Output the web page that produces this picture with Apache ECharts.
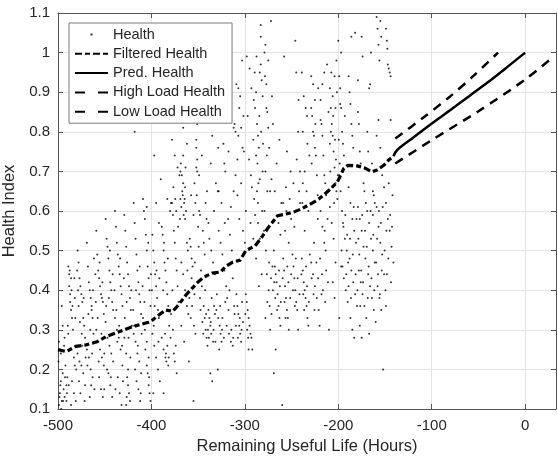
<!DOCTYPE html>
<html>
<head>
<meta charset="utf-8">
<script src="https://cdn.jsdelivr.net/npm/echarts@6/dist/echarts.min.js"></script>
<style>
  html, body { margin: 0; padding: 0; background: #fff; }
  #chart { width: 558px; height: 459px; }
</style>
</head>
<body>
<div id="chart"></div>
<script>
/* raw health samples, [hours, index] */
const healthA = [
  [-499,0.11],[-498,0.14],[-497,0.17],[-496,0.12],[-495,0.19],[-494,0.15],[-493,0.13],[-492,0.21],[-491,0.16],[-499,0.27],[-497,0.24],[-495,0.31],[-493,0.28],[-491,0.12],[-496,0.36],[-490,0.18],
  [-489,0.46],[-488,0.44],[-488,0.41],[-487,0.39],[-487,0.37],[-486,0.43],[-486,0.35],[-485,0.33],[-489,0.29],[-484,0.30],[-483,0.23],[-482,0.21],[-485,0.17],[-483,0.14],[-481,0.12],[-481,0.26],[-486,0.11],[-482,0.38],
  [-479,0.50],[-478,0.47],[-477,0.43],[-476,0.41],[-475,0.39],[-474,0.37],[-473,0.33],[-472,0.31],[-471,0.28],[-479,0.24],[-477,0.22],[-475,0.21],[-473,0.19],[-471,0.16],[-476,0.14],[-474,0.26],[-478,0.36],
  [-469,0.52],[-468,0.46],[-467,0.42],[-466,0.40],[-465,0.38],[-464,0.36],[-463,0.33],[-462,0.29],[-461,0.27],[-469,0.25],[-467,0.23],[-465,0.20],[-463,0.18],[-461,0.15],[-466,0.13],[-464,0.35],[-460,0.44],
  [-459,0.55],[-458,0.49],[-457,0.45],[-456,0.43],[-455,0.41],[-454,0.39],[-453,0.38],[-452,0.37],[-451,0.34],[-459,0.30],[-457,0.27],[-455,0.25],[-453,0.23],[-451,0.21],[-456,0.18],[-454,0.15],[-452,0.13],
  [-449,0.58],[-448,0.53],[-447,0.51],[-446,0.48],[-445,0.45],[-444,0.42],[-443,0.40],[-442,0.37],[-441,0.35],[-449,0.32],[-447,0.28],[-445,0.26],[-443,0.24],[-441,0.22],[-446,0.19],[-444,0.16],[-442,0.13],
  [-439,0.60],[-438,0.56],[-437,0.52],[-436,0.49],[-435,0.46],[-434,0.44],[-433,0.41],[-432,0.39],[-431,0.36],[-439,0.33],[-437,0.30],[-435,0.28],[-433,0.25],[-431,0.21],[-436,0.18],[-434,0.14],[-432,0.11],
  [-429,0.59],[-428,0.55],[-427,0.51],[-426,0.47],[-425,0.44],[-424,0.41],[-423,0.38],[-422,0.35],[-421,0.31],[-429,0.28],[-427,0.24],[-425,0.20],[-426,0.18],[-425,0.16],[-424,0.14],[-423,0.12],[-427,0.11],
  [-419,0.62],[-418,0.57],[-417,0.53],[-416,0.49],[-415,0.45],[-414,0.42],[-413,0.39],[-412,0.37],[-411,0.34],[-419,0.29],[-417,0.27],[-415,0.24],[-413,0.22],[-411,0.19],[-416,0.17],[-414,0.15],[-412,0.12],[-418,0.80],
  [-409,0.63],[-408,0.60],[-407,0.58],[-406,0.54],[-405,0.50],[-404,0.46],[-403,0.43],[-402,0.40],[-401,0.36],[-409,0.33],[-407,0.30],[-405,0.27],[-403,0.23],[-405,0.21],[-404,0.19],[-403,0.16],[-402,0.14],[-401,0.12],[-405,0.61]
];
const healthB = [
  [-399,0.54],[-398,0.50],[-397,0.47],[-396,0.44],[-395,0.41],[-394,0.38],[-393,0.35],[-392,0.33],[-399,0.29],[-397,0.26],[-395,0.23],[-393,0.20],[-391,0.17],[-397,0.74],[-390,0.68],[-395,0.62],[-392,0.57],[-398,0.14],
  [-389,0.56],[-388,0.54],[-387,0.50],[-386,0.47],[-385,0.45],[-384,0.42],[-383,0.39],[-382,0.36],[-381,0.31],[-389,0.28],[-387,0.25],[-385,0.23],[-384,0.22],[-383,0.26],[-382,0.21],[-383,0.63],[-387,0.14],[-380,0.60],
  [-379,0.62],[-378,0.62],[-377,0.59],[-376,0.55],[-375,0.52],[-374,0.48],[-373,0.45],[-372,0.41],[-371,0.37],[-379,0.34],[-377,0.30],[-376,0.24],[-375,0.22],[-374,0.26],[-372,0.71],[-375,0.74],[-370,0.69],[-373,0.19],[-378,0.78],
  [-369,0.63],[-368,0.61],[-367,0.65],[-366,0.67],[-365,0.62],[-364,0.66],[-363,0.60],[-366,0.74],[-366,0.81],[-364,0.58],[-362,0.52],[-361,0.50],[-368,0.47],[-366,0.44],[-364,0.40],[-362,0.36],[-368,0.31],[-365,0.27],[-360,0.22],[-369,0.70],[-362,0.77],
  [-359,0.53],[-358,0.51],[-357,0.48],[-356,0.46],[-352,0.78],[-352,0.76],[-351,0.73],[-352,0.71],[-351,0.70],[-349,0.69],[-354,0.67],[-353,0.62],[-355,0.59],[-351,0.82],[-357,0.43],[-354,0.39],[-358,0.33],[-353,0.29],[-355,0.12],[-350,0.56],
  [-349,0.60],[-348,0.59],[-346,0.74],[-342,0.62],[-345,0.55],[-344,0.52],[-343,0.49],[-347,0.45],[-344,0.36],[-343,0.33],[-342,0.30],[-341,0.28],[-340,0.26],[-346,0.41],[-348,0.38],[-341,0.58],
  [-339,0.35],[-338,0.33],[-337,0.31],[-336,0.29],[-335,0.79],[-334,0.27],[-333,0.36],[-332,0.34],[-331,0.67],[-338,0.53],[-336,0.50],[-334,0.47],[-332,0.44],[-337,0.19],[-335,0.17],[-333,0.60],[-339,0.57],[-330,0.39],
  [-329,0.65],[-328,0.65],[-327,0.31],[-326,0.29],[-325,0.27],[-324,0.33],[-323,0.77],[-323,0.83],[-322,0.72],[-321,0.70],[-328,0.55],[-326,0.52],[-324,0.49],[-322,0.45],[-320,0.41],[-329,0.20],[-325,0.62],[-321,0.37],
  [-319,0.83],[-316,0.83],[-312,0.81],[-310,0.80],[-311,0.82],[-312,0.65],[-310,0.69],[-318,0.58],[-316,0.54],[-314,0.50],[-317,0.29],[-315,0.27],[-313,0.26],[-311,0.34],[-319,0.38],[-313,0.43],[-315,0.61],
  [-309,0.39],[-308,0.36],[-307,0.34],[-306,0.31],[-305,0.29],[-304,0.27],[-303,0.37],[-302,0.32],[-309,0.92],[-307,0.91],[-305,0.89],[-306,0.86],[-304,0.81],[-307,0.79],[-301,0.75],[-308,0.73],[-304,0.67],[-308,0.64],[-306,0.58],[-302,0.55],[-300,0.52],[-303,0.98]
];
const healthC = [
  [-299,0.39],[-298,0.37],[-297,0.35],[-296,0.33],[-295,0.31],[-294,0.29],[-293,0.28],[-296,0.25],[-292,0.25],[-298,0.99],[-295,0.96],[-293,0.91],[-297,0.84],[-291,0.78],[-299,0.60],[-294,0.57],[-291,0.53],[-290,0.63],
  [-289,0.86],[-288,0.90],[-287,0.82],[-286,0.79],[-285,0.76],[-288,0.74],[-284,0.68],[-287,0.65],[-286,0.62],[-283,0.97],[-284,0.95],[-282,0.93],[-283,1.04],[-283,1.07],[-281,0.89],[-286,0.57],[-284,0.53],[-288,0.48],[-282,0.44],[-285,0.41],[-281,0.70],[-289,0.59],
  [-279,1.00],[-278,1.02],[-277,0.86],[-276,0.85],[-275,0.81],[-274,0.76],[-278,0.70],[-276,0.65],[-272,1.08],[-271,0.89],[-270,0.82],[-273,0.65],[-275,0.98],[-277,0.92],[-279,0.60],[-274,0.47],[-272,0.43],[-270,0.40],[-276,0.37],[-278,0.33],[-273,0.30],
  [-269,0.50],[-268,0.46],[-267,0.44],[-266,0.42],[-265,0.39],[-264,0.36],[-263,0.33],[-262,0.31],[-267,0.25],[-261,0.62],[-264,0.57],[-262,0.54],[-268,0.65],[-266,0.72],[-263,0.78],[-269,0.19],
  [-259,0.48],[-258,0.45],[-257,0.41],[-256,0.38],[-255,0.35],[-254,0.33],[-253,0.30],[-259,0.62],[-256,0.66],[-252,0.63],[-257,0.55],[-253,0.52],[-255,0.75],[-258,0.99],[-260,0.11],[-251,0.70],
  [-249,0.49],[-248,0.46],[-247,0.43],[-246,0.40],[-245,0.37],[-244,0.35],[-243,0.30],[-246,1.03],[-245,0.95],[-243,0.80],[-241,0.70],[-248,0.67],[-242,0.65],[-244,0.60],[-247,0.56],[-241,0.62],
  [-239,0.48],[-238,0.45],[-237,0.42],[-236,0.40],[-235,0.38],[-234,0.36],[-233,0.33],[-232,0.31],[-239,0.95],[-237,0.89],[-235,0.86],[-233,0.77],[-231,0.74],[-238,0.67],[-236,0.70],[-234,0.65],[-238,0.80],[-232,0.60],[-236,0.55],
  [-229,0.86],[-228,0.84],[-227,0.80],[-226,0.79],[-225,0.76],[-224,0.74],[-223,0.69],[-222,0.64],[-229,0.94],[-227,0.92],[-225,0.88],[-229,0.47],[-227,0.44],[-225,0.41],[-223,0.38],[-221,0.35],[-226,0.52],[-222,0.58],[-220,0.31],
  [-219,0.83],[-218,0.82],[-217,0.79],[-216,0.74],[-215,0.69],[-214,0.67],[-213,0.64],[-219,0.88],[-217,0.92],[-215,0.95],[-212,0.97],[-219,0.60],[-217,0.56],[-215,0.52],[-213,0.45],[-211,0.42],[-218,0.39],[-214,0.37],[-210,0.30],
  [-209,0.91],[-208,0.86],[-207,0.82],[-206,0.79],[-205,0.75],[-204,0.71],[-203,0.67],[-202,0.65],[-201,0.63],[-208,0.80],[-206,0.89],[-204,0.94],[-202,0.98],[-203,0.86],[-209,0.61],[-207,0.57],[-205,0.53],[-203,0.47],[-206,0.42],[-204,0.38],[-209,0.77]
];
const healthD = [
  [-199,0.94],[-198,0.91],[-197,0.86],[-196,0.80],[-195,0.77],[-194,0.74],[-200,1.03],[-197,1.00],[-199,0.69],[-198,0.87],[-193,0.84],[-196,0.60],[-195,0.57],[-193,0.53],[-191,0.50],[-197,0.46],[-194,0.43],[-192,0.40],[-190,0.37],[-199,0.33],
  [-189,0.94],[-188,0.90],[-187,0.87],[-186,0.82],[-185,0.79],[-184,0.76],[-182,1.05],[-186,1.04],[-189,0.66],[-187,0.62],[-185,0.58],[-183,0.55],[-181,0.52],[-188,0.48],[-186,0.45],[-184,0.42],[-182,0.39],[-180,0.36],[-187,0.33],[-185,0.30],[-183,0.28],[-189,0.41],
  [-179,0.93],[-178,0.82],[-177,0.75],[-176,0.72],[-175,1.04],[-174,0.99],[-173,0.67],[-172,0.65],[-179,0.61],[-177,0.58],[-175,0.55],[-173,0.51],[-171,0.48],[-178,0.45],[-176,0.42],[-174,0.39],[-172,0.36],[-170,0.33],[-177,0.31],[-175,0.28],[-179,0.85],
  [-169,0.80],[-168,0.75],[-167,0.91],[-166,0.92],[-165,1.00],[-164,0.72],[-163,0.65],[-162,0.64],[-169,0.60],[-167,0.57],[-165,0.53],[-163,0.50],[-161,0.47],[-168,0.44],[-166,0.41],[-164,0.38],[-162,0.35],[-160,0.32],[-167,0.29],[-163,0.59],[-161,0.62],
  [-159,1.09],[-158,1.06],[-157,1.02],[-156,0.98],[-155,1.08],[-154,1.04],[-159,0.79],[-157,0.83],[-155,0.76],[-153,0.69],[-151,0.66],[-159,0.61],[-157,0.56],[-155,0.52],[-153,0.49],[-151,0.44],[-158,0.41],[-156,0.38],[-152,0.20],[-154,0.35],
  [-149,1.06],[-148,1.03],[-147,0.97],[-146,0.96],[-145,0.95],[-144,0.94],[-149,0.62],[-147,0.58],[-145,0.55],[-143,0.51],[-141,0.47],[-148,0.44],[-146,0.67],[-144,0.83],[-142,0.64],[-149,0.36]
];
const healthE = [
  [-498.5,0.13],[-497.5,0.16],[-496.5,0.10],[-494.5,0.12],[-492.5,0.18],[-490.5,0.14],[-488.5,0.16],[-487.5,0.45],[-485.5,0.40],[-484.5,0.36],[-482.5,0.43],[-481.5,0.33],[-480.5,0.20],[-499.5,0.22],[-493.5,0.26],[-489.5,0.31],
  [-479.5,0.45],[-478.5,0.40],[-476.5,0.32],[-474.5,0.29],[-472.5,0.38],[-470.5,0.23],[-468.5,0.21],[-467.5,0.34],[-465.5,0.30],[-463.5,0.24],[-462.5,0.40],[-461.5,0.48],[-477.5,0.17],[-471.5,0.12],[-464.5,0.16],
  [-459.5,0.37],[-457.5,0.33],[-455.5,0.47],[-453.5,0.29],[-452.5,0.42],[-450.5,0.24],[-448.5,0.36],[-447.5,0.20],[-445.5,0.38],[-444.5,0.50],[-442.5,0.29],[-441.5,0.44],[-456.5,0.22],[-450.5,0.15],[-443.5,0.18],
  [-439.5,0.40],[-437.5,0.35],[-436.5,0.27],[-434.5,0.31],[-433.5,0.48],[-431.5,0.26],[-429.5,0.43],[-428.5,0.33],[-426.5,0.37],[-424.5,0.28],[-422.5,0.23],[-421.5,0.40],[-438.5,0.15],[-430.5,0.17],[-426.5,0.13],
  [-419.5,0.35],[-418.5,0.31],[-416.5,0.40],[-414.5,0.26],[-412.5,0.46],[-410.5,0.29],[-409.5,0.41],[-407.5,0.37],[-406.5,0.25],[-404.5,0.32],[-402.5,0.18],[-400.5,0.44],[-417.5,0.20],[-411.5,0.14],[-403.5,0.52],
  [-399.5,0.40],[-397.5,0.31],[-396.5,0.36],[-394.5,0.45],[-392.5,0.27],[-391.5,0.43],[-389.5,0.34],[-387.5,0.40],[-385.5,0.29],[-384.5,0.24],[-382.5,0.48],[-381.5,0.23],[-386.5,0.52],
  [-379.5,0.28],[-377.5,0.40],[-376.5,0.66],[-374.5,0.63],[-373.5,0.60],[-371.5,0.56],[-369.5,0.58],[-368.5,0.72],[-367.5,0.69],[-366.5,0.64],[-365.5,0.59],[-364.5,0.63],[-363.5,0.71],[-361.5,0.45],[-360.5,0.34],
  [-359.5,0.38],[-357.5,0.64],[-356.5,0.36],[-354.5,0.31],[-353.5,0.47],[-351.5,0.64],[-349.5,0.51],[-347.5,0.35],[-345.5,0.32],[-344.5,0.29],[-342.5,0.40],[-341.5,0.34],[-340.5,0.65],
  [-339.5,0.30],[-338.5,0.28],[-336.5,0.32],[-335.5,0.38],[-333.5,0.30],[-331.5,0.27],[-330.5,0.35],[-328.5,0.33],[-327.5,0.25],[-326.5,0.36],[-324.5,0.30],[-322.5,0.28],[-321.5,0.57],[-336.5,0.72],[-328.5,0.76],
  [-319.5,0.31],[-317.5,0.35],[-316.5,0.40],[-314.5,0.30],[-312.5,0.28],[-311.5,0.36],[-309.5,0.31],[-307.5,0.28],[-305.5,0.33],[-303.5,0.30],[-302.5,0.76],[-301.5,0.84],[-317.5,0.75],
  [-299.5,0.34],[-297.5,0.30],[-296.5,0.28],[-295.5,0.73],[-293.5,0.69],[-292.5,0.66],[-290.5,0.88],[-289.5,0.95],[-287.5,0.99],[-286.5,0.72],[-285.5,0.67],[-284.5,0.84],[-282.5,0.80],[-281.5,0.60],[-280.5,0.77],
  [-279.5,0.55],[-277.5,0.50],[-276.5,0.44],[-274.5,0.40],[-273.5,0.36],[-271.5,0.34],[-270.5,0.46],[-268.5,0.42],[-267.5,0.38],[-265.5,0.35],[-263.5,0.45],[-262.5,0.41],[-261.5,0.37],[-278.5,0.94],[-276.5,0.74],[-271.5,0.68],
  [-259.5,0.43],[-257.5,0.37],[-256.5,0.33],[-254.5,0.46],[-253.5,0.42],[-251.5,0.38],[-250.5,0.44],[-248.5,0.40],[-246.5,0.36],[-245.5,0.48],[-243.5,0.43],[-241.5,0.39],[-255.5,0.60],[-250.5,0.58],[-244.5,0.73],[-242.5,0.88],
  [-239.5,0.44],[-237.5,0.39],[-236.5,0.35],[-234.5,0.46],[-233.5,0.41],[-231.5,0.37],[-230.5,0.49],[-228.5,0.43],[-226.5,0.39],[-225.5,0.35],[-223.5,0.47],[-221.5,0.43],[-238.5,0.62],[-233.5,0.84],[-228.5,0.72],[-224.5,0.82],[-221.5,0.91],
  [-219.5,0.48],[-217.5,0.44],[-216.5,0.40],[-214.5,0.55],[-213.5,0.50],[-211.5,0.58],[-210.5,0.85],[-208.5,0.70],[-207.5,0.95],[-206.5,0.66],[-205.5,0.84],[-204.5,0.62],[-203.5,0.78],[-202.5,0.73],[-201.5,0.90],[-200.5,0.69],
  [-199.5,0.78],[-198.5,0.72],[-197.5,0.65],[-196.5,0.50],[-195.5,0.46],[-194.5,0.56],[-192.5,0.59],[-191.5,0.44],[-190.5,0.54],[-189.5,0.47],[-187.5,0.53],[-186.5,0.38],[-184.5,0.49],[-183.5,0.61],[-181.5,0.44],[-180.5,0.58],
  [-179.5,0.40],[-178.5,0.53],[-177.5,0.49],[-176.5,0.36],[-175.5,0.45],[-174.5,0.59],[-173.5,0.42],[-171.5,0.55],[-170.5,0.62],[-169.5,0.51],[-168.5,0.38],[-167.5,0.46],[-165.5,0.60],[-164.5,0.43],[-162.5,0.54],[-161.5,0.40],
  [-159.5,0.47],[-158.5,0.53],[-157.5,0.44],[-156.5,0.60],[-155.5,0.39],[-154.5,0.57],[-153.5,0.45],[-152.5,0.61],[-150.5,0.50],[-149.5,0.40],[-148.5,0.55],[-147.5,1.01],[-146.5,0.48],[-144.5,0.59],[-143.5,0.42],[-142.5,0.56]
];

/* filtered health */
const filteredX = [-500,-491,-481,-470,-459,-449,-438,-427,-417,-406,-401,-395,-385,-377,-371,-363,-356,-350,-344,-335,-326,-321,-313,-305,-299,-289,-281,-275,-265,-257,-248,-239,-228,-221,-212,-201,-194,-190,-180,-172,-164,-158,-151,-146,-141];
const filteredY = [0.250,0.245,0.258,0.262,0.269,0.282,0.292,0.302,0.310,0.317,0.320,0.332,0.350,0.347,0.363,0.388,0.406,0.421,0.433,0.443,0.446,0.459,0.471,0.476,0.500,0.512,0.537,0.558,0.588,0.592,0.597,0.606,0.620,0.630,0.648,0.673,0.708,0.715,0.714,0.709,0.699,0.704,0.716,0.729,0.738];

/* predictions */
const predX = [-141,-137,-120,-100,-80,-60,-40,-20,0];
const predY = [0.738,0.754,0.785,0.821,0.855,0.890,0.925,0.962,1.0];
const highX = [-139,-110,-80,-55,-29];
const highY = [0.783,0.834,0.890,0.942,1.0];
const lowX = [-139,-100,-50,0,28];
const lowY = [0.720,0.779,0.852,0.932,0.985];

const pairs = (xs, ys) => xs.map((x, i) => [x, ys[i]]);

const FONT = '"Liberation Sans", Arial, Helvetica, sans-serif';
const TEXT = '#262626';
const AXIS = '#555555';
const GRID = '#e4e4e4';
const HIDDEN_SYMBOL = { color: 'rgba(0,0,0,0)', borderWidth: 0, opacity: 0 };

const baseAxis = {
    type: 'value',
    axisLine: { show: true, onZero: false, lineStyle: { color: AXIS, width: 1 } },
    axisTick: { show: true, inside: true, length: 5, lineStyle: { color: AXIS, width: 1 } },
};

const chart = echarts.init(document.getElementById('chart'), null, { renderer: 'canvas' });
chart.setOption({
    animation: false,
    backgroundColor: '#fff',
    textStyle: { fontFamily: FONT },
    grid: { left: 58, right: 2, top: 13, bottom: 50, containLabel: false, outerBoundsMode: 'none' },
    legend: {
        orient: 'vertical',
        left: 69,
        top: 23,
        padding: [4, 7, 4, 5],
        itemWidth: 33,
        itemHeight: 14,
        itemGap: 4.3,
        backgroundColor: '#fff',
        borderColor: '#7a7a7a',
        borderWidth: 1,
        borderRadius: 0,
        selectedMode: false,
        textStyle: { fontSize: 14.5, color: TEXT, fontFamily: FONT },
        data: [
            { name: 'Health', icon: 'path://M0,0M33,14M15.5,6h2v2h-2z', itemStyle: { color: '#000' } },
            { name: 'Filtered Health', itemStyle: HIDDEN_SYMBOL },
            { name: 'Pred. Health', itemStyle: HIDDEN_SYMBOL },
            { name: 'High Load Health', itemStyle: HIDDEN_SYMBOL, lineStyle: { type: [10, 13] } },
            { name: 'Low Load Health', itemStyle: HIDDEN_SYMBOL, lineStyle: { type: [10, 13] } },
        ],
    },
    xAxis: [
        Object.assign({}, baseAxis, {
            position: 'bottom',
            min: -500,
            max: 33,
            interval: 100,
            name: 'Remaining Useful Life (Hours)',
            nameLocation: 'middle',
            nameGap: 29,
            nameTextStyle: { fontSize: 16.5, color: TEXT, fontFamily: FONT },
            axisLabel: {
                margin: 9,
                fontSize: 15,
                color: TEXT,
                fontFamily: FONT,
                formatter: v => (v % 100 === 0 ? String(v) : ''),
            },
            splitLine: { show: true, lineStyle: { color: GRID, width: 1 } },
        }),
        Object.assign({}, baseAxis, {
            position: 'top',
            min: -500,
            max: 33,
            interval: 100,
            axisLabel: { show: false },
            splitLine: { show: false },
        }),
    ],
    yAxis: [
        Object.assign({}, baseAxis, {
            position: 'left',
            min: 0.1,
            max: 1.1,
            interval: 0.1,
            name: 'Health Index',
            nameLocation: 'middle',
            nameGap: 27,
            nameTextStyle: { fontSize: 16.5, color: TEXT, fontFamily: FONT },
            axisLabel: { margin: 8, fontSize: 15, color: TEXT, fontFamily: FONT },
            splitLine: { show: true, lineStyle: { color: GRID, width: 1 } },
        }),
        Object.assign({}, baseAxis, {
            position: 'right',
            min: 0.1,
            max: 1.1,
            interval: 0.1,
            axisLabel: { show: false },
            splitLine: { show: false },
        }),
    ],
    series: [
        {
            name: 'Health',
            type: 'scatter',
            symbol: 'circle',
            symbolSize: 2,
            itemStyle: { color: '#000' },
            silent: true,
            data: healthA.concat(healthB, healthC, healthD, healthE),
        },
        {
            name: 'Filtered Health',
            type: 'line',
            symbol: 'none',
            itemStyle: { color: '#000' },
            lineStyle: { color: '#000', width: 3.2, type: [7, 3, 5, 3] },
            data: pairs(filteredX, filteredY),
        },
        {
            name: 'Pred. Health',
            type: 'line',
            symbol: 'none',
            smooth: 0.3,
            itemStyle: { color: '#000' },
            lineStyle: { color: '#000', width: 2.5, type: 'solid' },
            data: pairs(predX, predY),
        },
        {
            name: 'High Load Health',
            type: 'line',
            symbol: 'none',
            smooth: 0.3,
            itemStyle: { color: '#000' },
            lineStyle: { color: '#000', width: 2.5, type: [9, 7] },
            data: pairs(highX, highY),
        },
        {
            name: 'Low Load Health',
            type: 'line',
            symbol: 'none',
            smooth: 0.3,
            itemStyle: { color: '#000' },
            lineStyle: { color: '#000', width: 2.5, type: [9, 7] },
            data: pairs(lowX, lowY),
        },
    ],
});
</script>
</body>
</html>
